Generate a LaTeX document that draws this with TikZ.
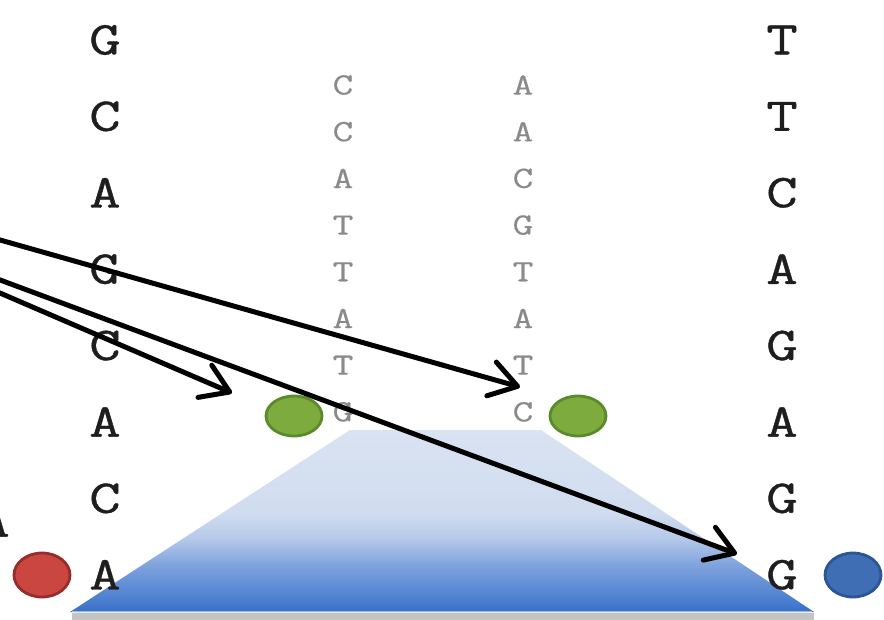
\documentclass[tikz,border=0pt]{standalone}
\usepackage{fontspec}
\usetikzlibrary{arrows.meta,shapes.geometric}

% wide slab typewriter face for the bases
\newfontfamily\basefont[FakeStretch=1.3,FakeBold=0.9]{Latin Modern Mono}
\newfontfamily\readfont[FakeStretch=1.3,FakeBold=0.4]{Latin Modern Mono}

\definecolor{baseink}{HTML}{1E1E1E}
\definecolor{readink}{HTML}{8A8A8A}
\definecolor{greenfill}{HTML}{7DAB3D}
\definecolor{greenedge}{HTML}{5B8A2A}
\definecolor{redfill}{HTML}{C94641}
\definecolor{rededge}{HTML}{962D2B}
\definecolor{bluefill}{HTML}{3F6EB4}
\definecolor{blueedge}{HTML}{2B5595}
\definecolor{trapA}{HTML}{3A6FC8}
\definecolor{trapB}{HTML}{4A7DCF}
\definecolor{trapC}{HTML}{80A3DD}
\definecolor{trapD}{HTML}{B4C8E9}
\definecolor{trapE}{HTML}{D0DCEF}
\definecolor{trapF}{HTML}{D9E3F2}
\definecolor{rimline}{HTML}{9DB8E6}
\definecolor{shadowgrey}{HTML}{C4C4C4}

% vertical blend of the alignment wedge (0bp = bottom, path spans 25bp..75bp)
\pgfdeclareverticalshading{wedgeshade}{100bp}{%
  color(0bp)=(trapA); color(25bp)=(trapA); color(28bp)=(trapB);
  color(38bp)=(trapC); color(45bp)=(trapD); color(52bp)=(trapE);
  color(75bp)=(trapF); color(100bp)=(trapF)}

\tikzset{
  bigbase/.style={inner sep=0pt, text=baseink,
    font=\fontsize{47}{47}\selectfont\basefont},
  readbase/.style={inner sep=0pt, text=readink,
    font=\fontsize{31}{31}\selectfont\readfont},
  blob/.style={ellipse, inner sep=0pt, line width=2.8pt},
  greenblob/.style={blob, fill=greenfill, draw=greenedge, minimum width=56, minimum height=40},
  redblob/.style={blob, fill=redfill, draw=rededge, minimum width=56, minimum height=44},
  blueblob/.style={blob, fill=bluefill, draw=blueedge, minimum width=56, minimum height=44},
  pointer/.style={draw=black, line width=5pt,
    -{Straight Barb[length=27pt,width=35pt,round]}},
}

\begin{document}
\begin{tikzpicture}[x=1pt,y=-1pt]
\useasboundingbox (0,0) rectangle (884,620);
\clip (0,0) rectangle (884,620);
\fill[white] (0,0) rectangle (884,620);

% alignment wedge with its rim and shadow
\fill[shadowgrey] (72,613) rectangle (814,620);
\shade[shading=wedgeshade] (70,612) -- (350,430) -- (541,430) -- (814,612) -- cycle;
\draw[rimline, line width=1.5pt] (72,611.5) -- (812,611.5);

% left sequence column
\foreach \b [count=\i] in {G,C,A,G,C,A,C,A}
  \node[bigbase] (L\i) at (105, {40+76.4*(\i-1)}) {\b};
% right sequence column
\foreach \b [count=\i] in {T,T,C,A,G,A,G,G}
  \node[bigbase] (R\i) at (782, {40+76.4*(\i-1)}) {\b};
% partly visible base at the left border
\node[bigbase] (E1) at (-6, 522) {A};

% two short reads
\foreach \b [count=\i] in {C,C,A,T,T,A,T,G}
  \node[readbase] (M\i) at (343, {85+46.7*(\i-1)}) {\b};
\foreach \b [count=\i] in {A,A,C,G,T,A,T,C}
  \node[readbase] (N\i) at (523, {85+46.7*(\i-1)}) {\b};

% end markers
\node[greenblob] (g1) at (294,416) {};
\node[greenblob] (g2) at (578,416) {};
\node[redblob]   (rd) at (42,575) {};
\node[blueblob]  (bl) at (853,575) {};

% pointers entering from the left
\coordinate (s1) at (-30,231.5);
\coordinate (s2) at (-30,280.1);
\coordinate (s3) at (-30,268.8);
\coordinate (t1) at (520,387);
\coordinate (t2) at (232,393);
\coordinate (t3) at (737,554);
\draw[pointer] (s1) -- (t1);
\draw[pointer] (s2) -- (t2);
\draw[pointer] (s3) -- (t3);
\end{tikzpicture}
\end{document}
